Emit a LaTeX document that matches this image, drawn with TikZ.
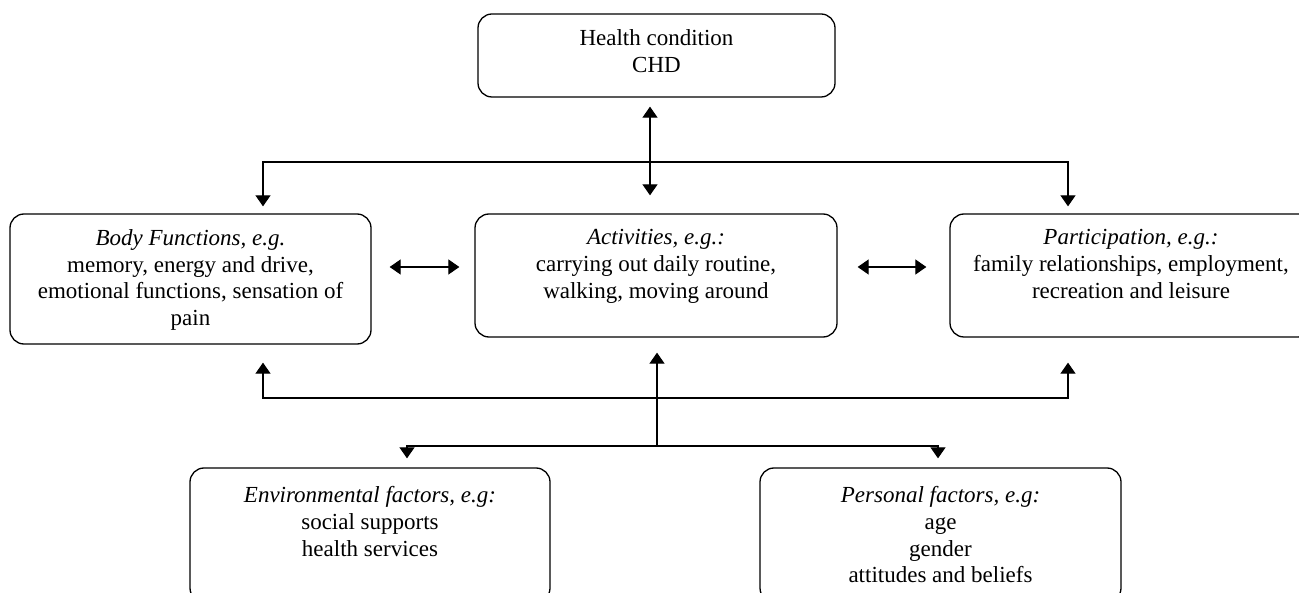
\documentclass[tikz,border=0pt]{standalone}
\usepackage{fontspec}
\setmainfont{Liberation Serif}
\usetikzlibrary{arrows.meta}
\begin{document}
\begin{tikzpicture}[x=1pt,y=-1pt,
  box/.style={draw, line width=1.3pt, rounded corners=14pt, inner sep=0pt},
  txt/.style={anchor=north, align=center, inner sep=0pt, font=\fontsize{23}{26.7}\selectfont},
  tip/.style={},
  arr/.style={line width=1.2pt, -{Triangle[width=15pt,length=11pt]}},
  darr/.style={line width=1.2pt, {Triangle[width=15pt,length=11pt]}-{Triangle[width=15pt,length=11pt]}}]
\useasboundingbox (0,0) rectangle (1299,593);
\clip (0,0) rectangle (1299,593);
% boxes
\node[box, minimum width=357pt, minimum height=83pt] (hc) at (656.5,55.5) {};
\node[box, minimum width=361pt, minimum height=130pt] (bf) at (190.5,279) {};
\node[box, minimum width=362pt, minimum height=123pt] (act) at (656,275.5) {};
\node[box, minimum width=362pt, minimum height=123pt] (par) at (1131,275.5) {};
\node[box, minimum width=360pt, minimum height=134pt] (env) at (370,535) {};
\node[box, minimum width=361pt, minimum height=134pt] (pers) at (940.5,535) {};
% texts
\node[txt] (hct) at ([yshift=-16pt]hc.north) {Health condition\\CHD};
\node[txt] (bft) at ([yshift=-16pt]bf.north) {\textit{Body Functions, e.g.}\\memory, energy and drive,\\emotional functions, sensation of\\pain};
\node[txt] (actt) at ([yshift=-16pt]act.north) {\textit{Activities, e.g.:}\\carrying out daily routine,\\walking, moving around};
\node[txt] (part) at ([yshift=-16pt]par.north) {\textit{Participation, e.g.:}\\family relationships, employment,\\recreation and leisure};
\node[txt] (envt) at ([yshift=-19pt]env.north) {\textit{Environmental factors, e.g:}\\social supports\\health services};
\node[txt] (perst) at ([yshift=-19pt]pers.north) {\textit{Personal factors, e.g:}\\age\\gender\\attitudes and beliefs};
% helper coordinates
\coordinate (vx) at (650,0);
\coordinate (lr) at (0,267);
\coordinate (t1) at (263,162);
\coordinate (t2) at (1068,162);
\coordinate (b1) at (263,398);
\coordinate (b2) at (1068,398);
\coordinate (m1) at (657,446);
\coordinate (e1) at (407,446);
\coordinate (p1) at (938,446);
% connectors
\draw[darr, shorten <=9pt, shorten >=18pt] (hc.south -| vx) -- (act.north -| vx);
\draw[darr, shorten <=7pt, shorten >=7pt] (t1 |- bf.north) -- (t1) -- (t2) -- (t2 |- par.north);
\draw[darr, shorten <=18pt, shorten >=15pt] (bf.east |- lr) -- (act.west |- lr);
\draw[darr, shorten <=20pt, shorten >=23pt] (act.east |- lr) -- (par.west |- lr);
\draw[darr, shorten <=18pt, shorten >=25pt] (b1 |- bf.south) -- (b1) -- (b2) -- (b2 |- par.south);
\draw[arr, shorten >=15pt] (m1) -- (m1 |- act.south);
\draw[darr, shorten <=9pt, shorten >=9pt] (e1 |- env.north) -- (e1) -- (p1) -- (p1 |- pers.north);
\end{tikzpicture}
\end{document}
